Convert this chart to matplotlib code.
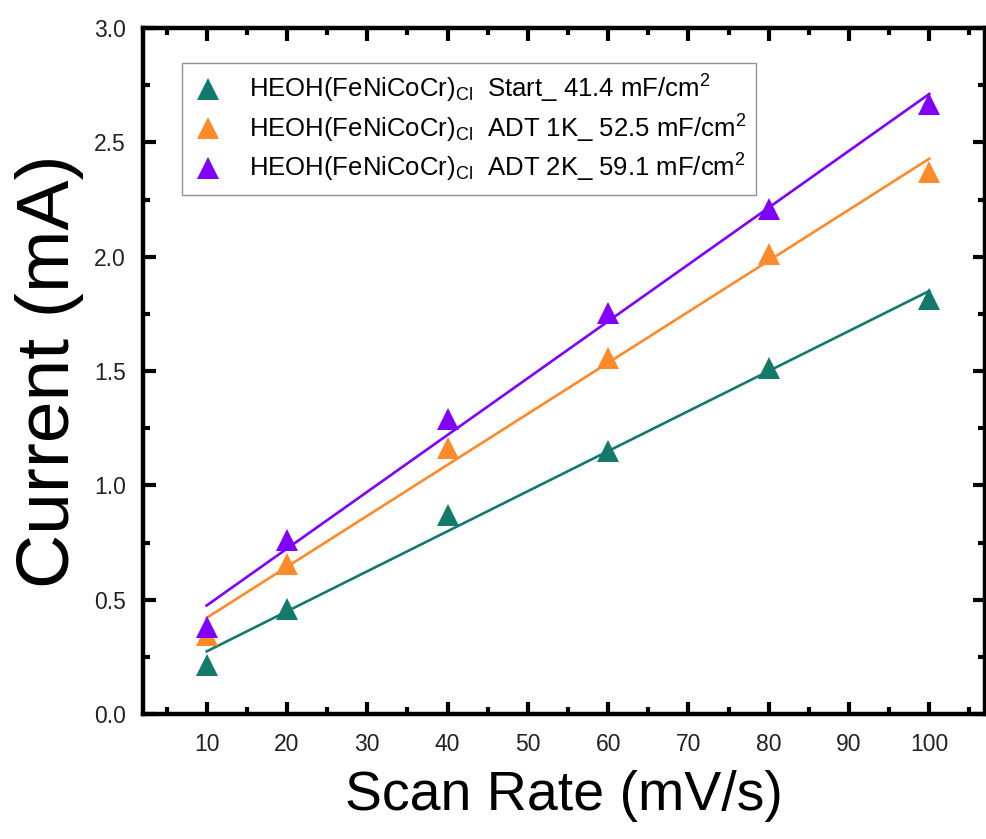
import numpy as np
import matplotlib
matplotlib.use("Agg")
import matplotlib.pyplot as plt
from matplotlib.ticker import MultipleLocator

plt.rcParams['font.family'] = ['Liberation Sans', 'DejaVu Sans']
plt.rcParams['mathtext.fontset'] = 'custom'
plt.rcParams['mathtext.rm'] = 'Liberation Sans'
plt.rcParams['mathtext.it'] = 'Liberation Sans:italic'
plt.rcParams['mathtext.bf'] = 'Liberation Sans:bold'

scan_rate = [10, 20, 40, 60, 80, 100]
start_current = [0.214, 0.46, 0.87, 1.15, 1.513, 1.815]
adt1k_current = [0.345, 0.656, 1.165, 1.555, 2.01, 2.37]
adt2k_current = [0.38, 0.76, 1.29, 1.755, 2.21, 2.667]

labels = [
    r'HEOH(FeNiCoCr)$_{\mathrm{Cl}}$  Start_ 41.4 mF/cm$^{2}$',
    r'HEOH(FeNiCoCr)$_{\mathrm{Cl}}$  ADT 1K_ 52.5 mF/cm$^{2}$',
    r'HEOH(FeNiCoCr)$_{\mathrm{Cl}}$  ADT 2K_ 59.1 mF/cm$^{2}$',
]
colors = ['#137a6b', '#ff8a2a', '#8000ff']
series = [start_current, adt1k_current, adt2k_current]

fig = plt.figure(figsize=(9.87, 8.39), dpi=100)
ax = fig.add_axes([142.5/987, 1-714/839, (985.5-142.5)/987, (714-28)/839])

x = np.array(scan_rate, dtype=float)
handles = []
for y, c, lab in zip(series, colors, labels):
    y = np.array(y)
    k, b = np.polyfit(x, y, 1)
    ax.plot(x, k*x + b, color=c, lw=1.9, zorder=2)
    h, = ax.plot(x, y, linestyle='none', marker='^', ms=16, color=c,
                 markeredgewidth=0, label=lab, zorder=3)
    handles.append(h)

ax.set_xlim(2, 107)
ax.set_ylim(0, 3.0)
ax.xaxis.set_minor_locator(MultipleLocator(5))
ax.yaxis.set_major_locator(MultipleLocator(0.5))
ax.yaxis.set_minor_locator(MultipleLocator(0.25))
ax.set_xticks(np.arange(10, 101, 10))
ax.yaxis.set_major_formatter(matplotlib.ticker.FormatStrFormatter('%.1f'))

for s in ax.spines.values():
    s.set_linewidth(3.2)
ax.tick_params(which='both', direction='in', top=True, right=True, width=3.0)
ax.tick_params(which='major', length=9, labelsize=16.5, colors='black')
ax.tick_params(axis='x', which='major', pad=14)
ax.tick_params(axis='y', which='major', pad=12)
ax.tick_params(which='minor', length=5)
for t in ax.get_xticklabels() + ax.get_yticklabels():
    t.set_color('#222222')

ax.set_xlabel('Scan Rate (mV/s)', fontsize=40, labelpad=10)
ax.set_ylabel('Current (mA)', fontsize=54, labelpad=7)

leg = ax.legend(handles=handles, loc='upper left', bbox_to_anchor=(0.047, 0.949),
                borderaxespad=0, fontsize=18.5, frameon=True, fancybox=False,
                edgecolor='#777777', handlelength=1.2, handletextpad=1.0,
                labelspacing=0.28, borderpad=0.4, markerscale=1.0)
leg.get_frame().set_linewidth(1.0)

fig.savefig('out.png', dpi=100)
